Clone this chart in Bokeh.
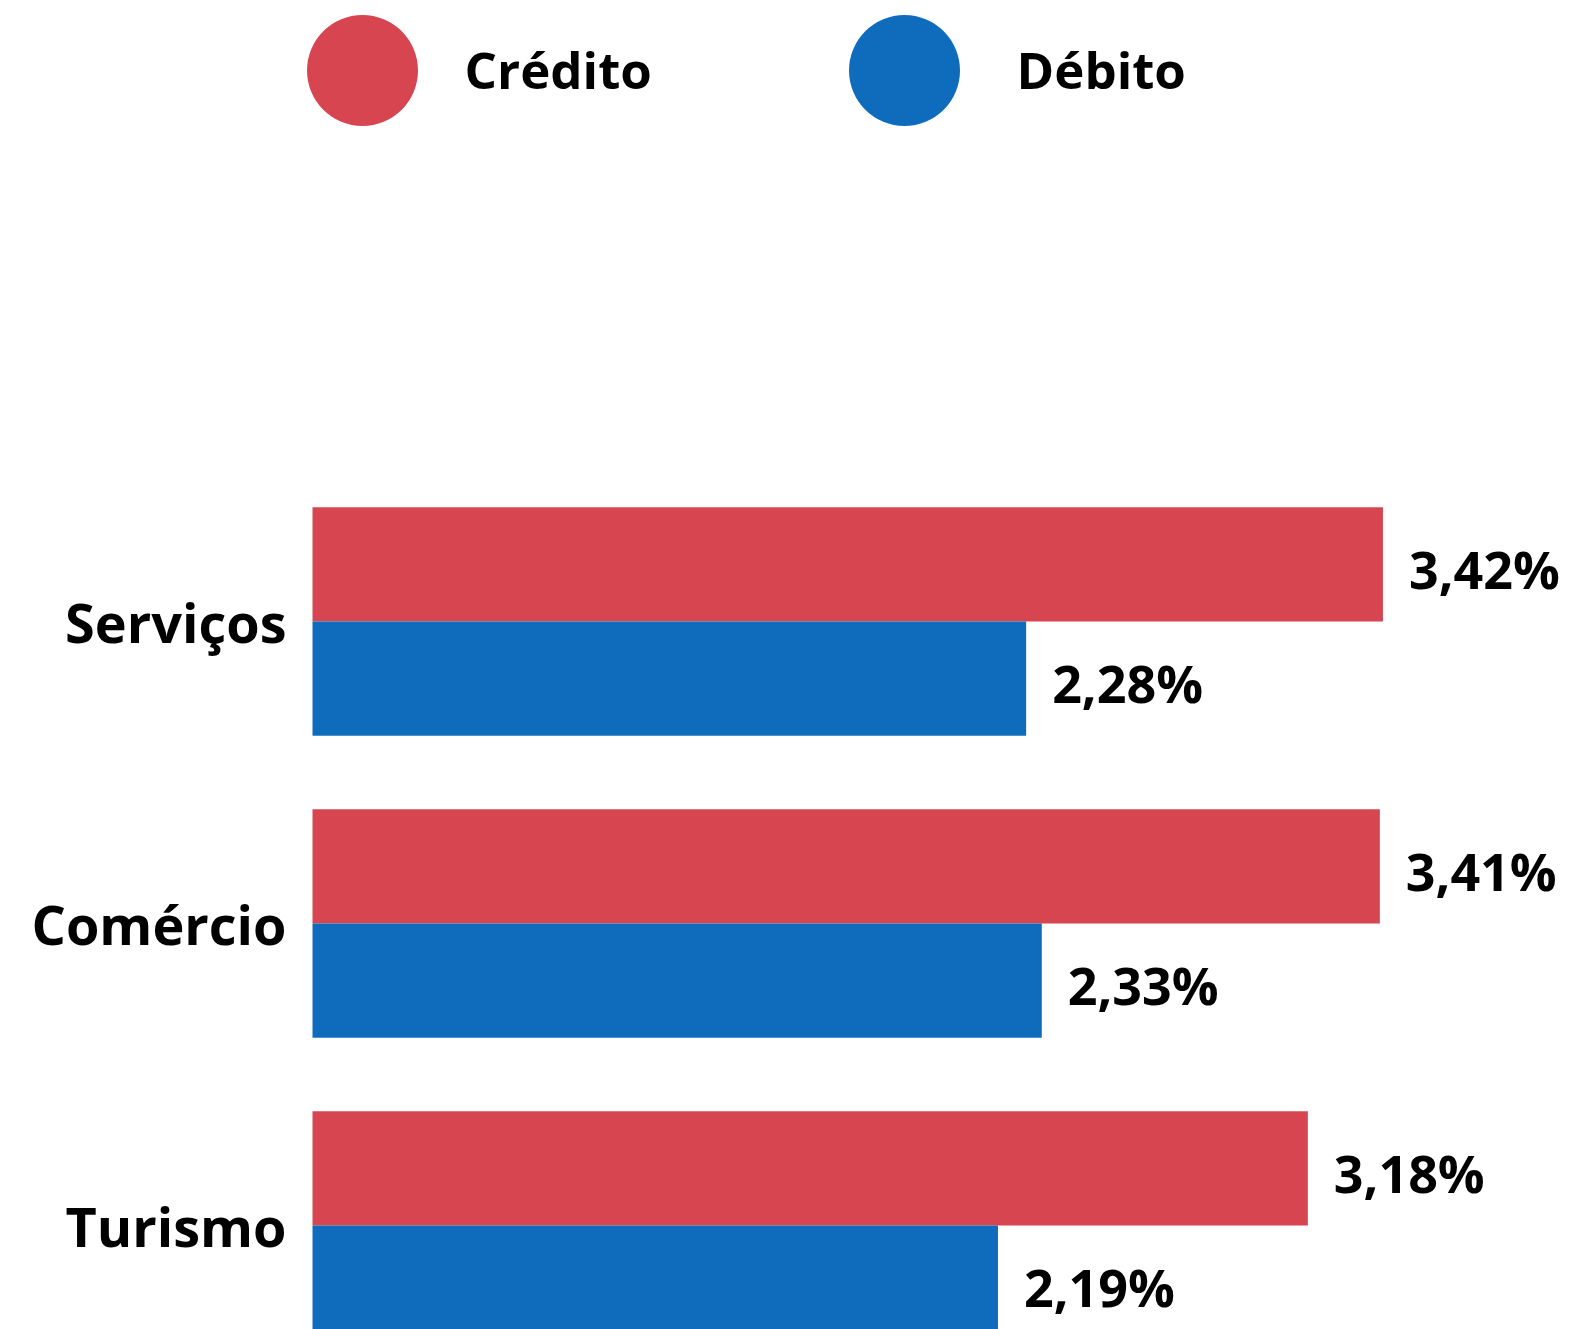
from bokeh.plotting import figure
from bokeh.models import ColumnDataSource, Range1d, FixedTicker
from bokeh.transform import dodge
from bokeh.core.properties import value
from bokeh.embed import file_html
from bokeh.resources import INLINE

# ---- data ----
categories = ["Serviços", "Comércio", "Turismo"]
credito = [3.42, 3.41, 3.18]
debito = [2.28, 2.33, 2.19]
series_names = ["Crédito", "Débito"]
series_colors = ["#D64550", "#0F6CBD"]


def fmt(v):
    return f"{v:.2f}".replace(".", ",") + "%"


idx = list(range(len(categories)))
src = ColumnDataSource(dict(
    idx=idx, cat=categories, credito=credito, debito=debito,
    lc=[fmt(v) for v in credito], ld=[fmt(v) for v in debito],
))

# ---- layout constants (canvas px) ----
W, H = 1595, 1329
FRAME_LEFT = 298    # canvas x where the plot frame starts
ZERO_X = 312        # canvas x of value 0
PX_X = 313.0        # px per percentage point
PX_Y = 302.0        # px per category
Y0 = 621.0          # canvas y of first category centre
BH = 0.3785         # bar thickness (category units)
OFF = BH / 2

FONT = value("Open Sans")

p = figure(width=W, height=H, output_backend="svg", toolbar_location=None,
           x_range=Range1d(-(ZERO_X - FRAME_LEFT) / PX_X, (W - ZERO_X) / PX_X),
           y_range=Range1d((H - Y0) / PX_Y, -Y0 / PX_Y),
           min_border_left=FRAME_LEFT, min_border_right=0,
           min_border_top=0, min_border_bottom=0,
           x_axis_location=None, y_axis_location="left")

p.hbar(y=dodge("idx", -OFF, range=p.y_range), left=0, right="credito", height=BH,
       fill_color=series_colors[0], line_color=None, source=src)
p.hbar(y=dodge("idx", OFF, range=p.y_range), left=0, right="debito", height=BH,
       fill_color=series_colors[1], line_color=None, source=src)

common = dict(text_baseline="middle", text_align="left", text_font=FONT,
              text_font_style="bold", text_font_size="52px", text_color="black",
              x_offset=26, y_offset=4, source=src)
p.text(x="credito", y=dodge("idx", -OFF, range=p.y_range), text="lc", **common)
p.text(x="debito", y=dodge("idx", OFF, range=p.y_range), text="ld", **common)

# ---- legend (custom, large dots) ----
dot_px = [362, 904]
txt_px = [464, 1016]
leg_y = (70 - Y0) / PX_Y
leg_src = ColumnDataSource(dict(
    x=[(px - ZERO_X) / PX_X for px in dot_px],
    tx=[(px - ZERO_X) / PX_X for px in txt_px],
    y=[leg_y] * len(series_names),
    name=series_names, color=series_colors,
))
p.scatter(x="x", y="y", size=111, fill_color="color", line_color=None, source=leg_src)
p.text(x="tx", y="y", text="name", y_offset=-2, text_baseline="middle",
       text_align="left", text_font=FONT, text_font_style="bold",
       text_font_size="51px", text_color="black", source=leg_src)

# ---- axis styling ----
ax = p.yaxis[0]
ax.ticker = FixedTicker(ticks=idx)
ax.major_label_overrides = {i: c for i, c in zip(idx, categories)}
ax.axis_line_color = None
ax.major_tick_line_color = None
ax.minor_tick_line_color = None
ax.major_label_standoff = 6
ax.major_label_text_font = "Open Sans"
ax.major_label_text_font_style = "bold"
ax.major_label_text_font_size = "54px"
ax.major_label_text_color = "black"

p.grid.visible = False
p.outline_line_color = None
p.background_fill_color = "white"
p.border_fill_color = "white"

open("out.html", "w").write(file_html(p, INLINE))
